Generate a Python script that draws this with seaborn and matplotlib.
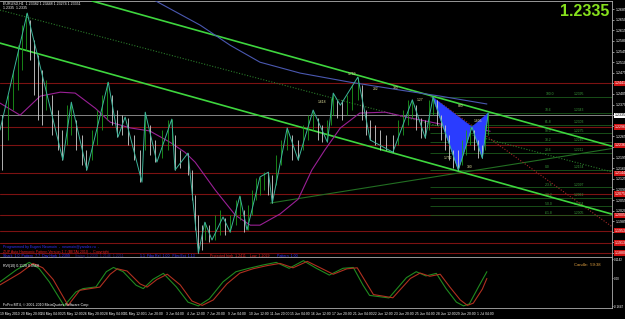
import matplotlib
matplotlib.use("Agg")
import matplotlib.pyplot as plt
import matplotlib.transforms as mtransforms
import pandas as pd
import seaborn as sns

sns.set_theme(style="dark")
plt.rcParams["font.family"] = ["Liberation Sans", "DejaVu Sans"]
plt.rcParams["axes.facecolor"] = "black"
plt.rcParams["figure.facecolor"] = "black"

# ---------------- data (bar index = hours on the H1 chart, price) ----------------
zz_x = [0, 42, 97, 110, 134, 167, 182, 193, 219, 224, 242, 265, 270, 290, 306, 316, 327, 344, 355, 370,
        381, 401, 414, 420, 443, 460, 483, 505, 514, 525, 552, 571, 606, 636, 656, 668, 707, 728, 744, 753]
zz_p = [1.2286, 1.2672, 1.2187, 1.2378, 1.2154, 1.2444, 1.2263, 1.2329, 1.2114, 1.2345, 1.2180, 1.2322,
        1.2154, 1.2210, 1.1880, 1.1982, 1.1923, 1.1999, 1.1949, 1.2068, 1.1956, 1.2131, 1.2147, 1.2045,
        1.2293, 1.2187, 1.2352, 1.2246, 1.2408, 1.2368, 1.2461, 1.2253, 1.2213, 1.2386, 1.2260, 1.2395,
        1.2154, 1.2296, 1.2193, 1.2342]

bar_x = [3, 12, 20, 28, 34, 40, 46, 52, 59, 65, 71, 80, 89, 96, 103, 110, 117, 127, 133, 142, 150, 157,
         165, 173, 181, 188, 198, 207, 216, 224, 231, 239, 250, 259, 265, 270, 278, 290, 296, 301, 306,
         312, 316, 322, 332, 339, 347, 355, 364, 370, 376, 383, 389, 395, 401, 407, 414, 420, 426, 434,
         443, 451, 460, 468, 475, 483, 491, 497, 505, 511, 514, 520, 528, 535, 543, 552, 559, 565, 571,
         579, 586, 596, 606, 614, 622, 630, 636, 642, 650, 656, 662, 668, 674, 680, 687, 693, 699, 707,
         713, 719, 725, 731, 738, 744, 748, 753]
bar_hi = [1.2335, 1.2401, 1.2484, 1.2566, 1.2632, 1.2672, 1.2649, 1.2583, 1.2533, 1.2484, 1.2451, 1.2401,
          1.2352, 1.2286, 1.2368, 1.2378, 1.2319, 1.2270, 1.2220, 1.2286, 1.2352, 1.2401, 1.2444, 1.2401,
          1.2352, 1.2335, 1.2326, 1.2270, 1.2220, 1.2345, 1.2302, 1.2253, 1.2286, 1.2319, 1.2322, 1.2270,
          1.2220, 1.2210, 1.2154, 1.2071, 1.2005, 1.1972, 1.1982, 1.1972, 1.2005, 1.2022, 1.1995, 1.2005,
          1.2055, 1.2068, 1.2022, 1.2038, 1.2088, 1.2127, 1.2131, 1.2147, 1.2147, 1.2137, 1.2203, 1.2253,
          1.2293, 1.2270, 1.2253, 1.2302, 1.2335, 1.2352, 1.2326, 1.2302, 1.2319, 1.2391, 1.2408, 1.2385,
          1.2385, 1.2401, 1.2435, 1.2461, 1.2435, 1.2352, 1.2319, 1.2302, 1.2286, 1.2270, 1.2270, 1.2319,
          1.2352, 1.2385, 1.2385, 1.2368, 1.2326, 1.2319, 1.2385, 1.2395, 1.2385, 1.2335, 1.2302, 1.2270,
          1.2220, 1.2220, 1.2253, 1.2286, 1.2296, 1.2286, 1.2253, 1.2236, 1.2302, 1.2342]
bar_lo = [1.2154, 1.2253, 1.2352, 1.2418, 1.2484, 1.2550, 1.2517, 1.2401, 1.2319, 1.2302, 1.2352, 1.2270,
          1.2220, 1.2187, 1.2236, 1.2270, 1.2220, 1.2170, 1.2154, 1.2187, 1.2236, 1.2286, 1.2319, 1.2302,
          1.2263, 1.2270, 1.2236, 1.2187, 1.2114, 1.2220, 1.2203, 1.2180, 1.2193, 1.2220, 1.2236, 1.2154,
          1.2160, 1.2137, 1.2055, 1.1956, 1.1880, 1.1890, 1.1923, 1.1916, 1.1923, 1.1939, 1.1939, 1.1949,
          1.1972, 1.1989, 1.1949, 1.1956, 1.2005, 1.2055, 1.2071, 1.2088, 1.2071, 1.2045, 1.2104, 1.2170,
          1.2220, 1.2187, 1.2187, 1.2220, 1.2253, 1.2286, 1.2253, 1.2246, 1.2246, 1.2302, 1.2335, 1.2326,
          1.2319, 1.2335, 1.2352, 1.2385, 1.2319, 1.2270, 1.2253, 1.2236, 1.2220, 1.2220, 1.2213, 1.2236,
          1.2270, 1.2302, 1.2326, 1.2286, 1.2260, 1.2260, 1.2286, 1.2335, 1.2302, 1.2253, 1.2220, 1.2187,
          1.2160, 1.2154, 1.2170, 1.2203, 1.2236, 1.2220, 1.2193, 1.2193, 1.2220, 1.2270]

ma_slow_x = [0, 31, 62, 93, 116, 147, 170, 201, 231, 262, 285, 301, 332, 363, 386, 401, 432, 460, 481, 501,
             525, 555, 594, 633, 679, 718, 756]
ma_slow_p = [1.2375, 1.2335, 1.2398, 1.2411, 1.2408, 1.2358, 1.2312, 1.2293, 1.2283, 1.2246, 1.2213, 1.2180,
             1.2088, 1.2005, 1.1972, 1.1972, 1.2009, 1.2058, 1.2154, 1.2220, 1.2293, 1.2342, 1.2345, 1.2326,
             1.2306, 1.2299, 1.2282]
ma_long_x = [224, 309, 355, 401, 463, 540, 617, 679, 751]
ma_long_p = [1.2731, 1.2632, 1.2566, 1.2510, 1.2474, 1.2444, 1.2418, 1.2398, 1.2372]

pat_x = [667, 707, 728, 744, 753]          # X A B C D
pat_p = [1.2395, 1.2154, 1.2296, 1.2193, 1.2342]

red_levels = [1.2441, 1.2296, 1.2236, 1.2144, 1.2075, 1.2005, 1.1953, 1.1913, 1.1880]
current_price = 1.2335

fib_levels = ["100.0", "78.6", "61.8", "50.0", "38.2", "23.6", "0.0", "-23.6", "-38.2", "-50.0", "-61.8"]
fib_prices = [1.2395, 1.2343, 1.2303, 1.2275, 1.2246, 1.2211, 1.2154, 1.2097, 1.2062, 1.2034, 1.2005]

zl_x = [497, 543, 579, 610, 648, 710, 738, 691, 725]
zl_p = [1.2378, 1.2471, 1.2421, 1.2425, 1.2385, 1.2365, 1.2316, 1.2193, 1.2164]
zl_t = ["1.618", "1.759", "282", "380", "1.27", "880", "1.605", "1.752", "380"]

price_ticks = [1.2685, 1.2650, 1.2615, 1.2580, 1.2545, 1.2510, 1.2475, 1.2440, 1.2405, 1.2370, 1.2335,
               1.2300, 1.2265, 1.2230, 1.2195, 1.2160, 1.2125, 1.2090, 1.2055, 1.2020, 1.1985, 1.1950,
               1.1915, 1.1880]

time_labels = ["19 May 2010", "20 May 20:00", "24 May 04:00", "25 May 12:00", "26 May 20:00",
               "28 May 04:00", "31 May 12:00", "1 Jun 20:00", "3 Jun 04:00", "4 Jun 12:00",
               "7 Jun 20:00", "9 Jun 04:00", "10 Jun 12:00", "11 Jun 20:00", "15 Jun 04:00",
               "16 Jun 12:00", "17 Jun 20:00", "21 Jun 04:00", "22 Jun 12:00", "23 Jun 20:00",
               "25 Jun 04:00", "28 Jun 12:00", "29 Jun 20:00", "1 Jul 04:00"]
time_ticks = [32 * i for i in range(len(time_labels))]

rvi_red_x = [0, 31, 51, 66, 82, 105, 123, 134, 154, 170, 181, 196, 216, 227, 242, 258, 278, 296, 312, 329,
             350, 370, 390, 412, 432, 452, 474, 494, 514, 535, 551, 566, 576, 606, 633, 648, 663, 679, 694,
             710, 721, 730, 744, 751]
rvi_red_v = [-0.038, 0.032, 0.089, 0.063, -0.006, -0.159, -0.070, -0.063, -0.051, 0.025, 0.057, 0.044,
             -0.032, -0.051, -0.006, 0.025, -0.038, -0.133, -0.159, -0.127, -0.032, 0.032, 0.057, 0.076,
             0.089, 0.063, 0.101, 0.063, 0.025, 0.057, 0.063, -0.032, -0.095, -0.114, 0.0, 0.032, 0.013,
             0.025, -0.051, -0.127, -0.159, -0.146, -0.063, 0.0]
rvi_grn_x = [0, 25, 45, 60, 76, 99, 117, 128, 148, 164, 175, 190, 210, 221, 236, 252, 272, 290, 306, 323,
             344, 364, 384, 406, 426, 446, 468, 488, 508, 529, 545, 560, 570, 600, 627, 642, 657, 673, 688,
             704, 715, 724, 738, 751]
rvi_grn_v = [-0.02, 0.05, 0.095, 0.06, -0.02, -0.162, -0.08, -0.06, -0.05, 0.04, 0.065, 0.04, -0.04, -0.06,
             -0.005, 0.03, -0.05, -0.14, -0.162, -0.12, -0.02, 0.04, 0.06, 0.08, 0.095, 0.06, 0.105, 0.06,
             0.02, 0.06, 0.065, -0.04, -0.1, -0.115, 0.005, 0.04, 0.015, 0.03, -0.06, -0.14, -0.162, -0.15,
             -0.05, 0.04]

# ---------------- figure ----------------
W, H = 625, 319
fig = plt.figure(figsize=(6.25, 3.19), dpi=100, facecolor="black")
ax = fig.add_axes([0, 59 / H, 612 / W, 259 / H])
axr = fig.add_axes([0, 11 / H, 612 / W, 51 / H])
XMAX = 944
for a in (ax, axr):
    a.set_facecolor("black")
    a.set_xlim(0, XMAX)
    a.grid(False)
    a.spines["left"].set_visible(False)
    for s in ("right", "top", "bottom"):
        a.spines[s].set_color("#b0b0b0")
        a.spines[s].set_linewidth(0.6)
ax.set_ylim(1.1857, 1.2712)
axr.set_ylim(-0.1745, 0.1268)

# horizontal levels
for p in red_levels:
    ax.axhline(p, color="#7c1212", lw=0.8, zorder=1)
ax.axhline(current_price, color="#9a9a9a", lw=0.6, zorder=1)
ax.hlines(fib_prices, 663, XMAX, color="#1c5a1c", lw=0.6, zorder=1)
for lv, p in zip(fib_levels, fib_prices):
    ax.text(841, p + 0.0002, lv, fontsize=2.4, color="#3a9a3a", ha="left", va="bottom", zorder=2)
    ax.text(885, p + 0.0002, f"{p:.4f}", fontsize=2.4, color="#3a9a3a", ha="left", va="bottom", zorder=2)

# trend lines
ax.axline((137, 1.2715), (938, 1.2236), color="#3ed63e", lw=1.2, zorder=3)
ax.axline((0, 1.2573), (938, 1.2012), color="#3ed63e", lw=1.2, zorder=3)
ax.axline((0, 1.2682), (938, 1.2151), color="#2a7a2a", lw=0.8, ls=(0, (1, 1.5)), zorder=2)
ax.plot([417, XMAX], [1.2045, 1.2225], color="#226e22", lw=0.8, zorder=2)
ax.plot([667, XMAX], [1.2395, 1.1967], color="#a02828", lw=0.8, ls=(0, (1, 1.5)), zorder=2)

# moving averages
sns.lineplot(x=ma_long_x, y=ma_long_p, ax=ax, color="#4a58b0", lw=0.8, sort=False, estimator=None, zorder=3)
sns.lineplot(x=ma_slow_x, y=ma_slow_p, ax=ax, color="#9a2096", lw=0.8, sort=False, estimator=None, zorder=3)

# harmonic pattern
ax.fill([pat_x[0], pat_x[1], pat_x[2]], [pat_p[0], pat_p[1], pat_p[2]], color="#2a3cff", lw=0.4, zorder=4)
ax.fill([pat_x[2], pat_x[3], pat_x[4]], [pat_p[2], pat_p[3], pat_p[4]], color="#2a3cff", lw=0.4, zorder=4)

# price bars
cols = []
prev = None
for hi, lo in zip(bar_hi, bar_lo):
    mid = (hi + lo) / 2
    cols.append("#d0d0d0" if prev is None or mid < prev else "#1c9a1c")
    prev = mid
ax.vlines(bar_x, bar_lo, bar_hi, colors=cols, lw=0.6, zorder=5)

# zigzag
zz = pd.DataFrame({"bar": zz_x, "price": zz_p})
sns.lineplot(data=zz, x="bar", y="price", ax=ax, color="#3cb49a", lw=0.7, sort=False, estimator=None, zorder=6)

for x, p, t in zip(zl_x, zl_p, zl_t):
    ax.text(x, p, t, fontsize=2.4, color="#e6e6a0", ha="center", va="center", zorder=7)

# right price axis (labels hidden behind the level tags are skipped, as on the terminal)
shown_ticks = [t for t in price_ticks
               if all(abs(t - r) > 0.0012 for r in red_levels + [current_price]) or t == current_price]
ax.yaxis.tick_right()
ax.set_yticks(price_ticks)
ax.set_yticklabels([f"{p:.4f}" if p in shown_ticks and p != current_price else "" for p in price_ticks])
ax.tick_params(axis="y", labelsize=2.6, colors="white", length=1.5, width=0.4, pad=1)
ax.set_xticks([])
ax.set_xlabel("")
ax.set_ylabel("")
tr = mtransforms.blended_transform_factory(ax.transAxes, ax.transData)
for p in red_levels:
    ax.text(1.004, p, f"{p:.4f}", transform=tr, fontsize=2.6, color="white", ha="left", va="center",
            bbox=dict(fc="#d01414", ec="none", pad=0.4), clip_on=False, zorder=8)
ax.text(1.004, current_price, f"{current_price:.4f}", transform=tr, fontsize=2.6, color="black", ha="left",
        va="center", bbox=dict(fc="white", ec="none", pad=0.4), clip_on=False, zorder=8)

# RVI panel
sns.lineplot(x=rvi_grn_x, y=rvi_grn_v, ax=axr, color="#1f8a1f", lw=0.8, sort=False, estimator=None)
sns.lineplot(x=rvi_red_x, y=rvi_red_v, ax=axr, color="#b03020", lw=0.8, sort=False, estimator=None)
axr.yaxis.tick_right()
axr.set_yticks([0.1142, 0.0, -0.1647])
axr.set_yticklabels(["0.1142", "0.00", "-0.1647"])
axr.tick_params(axis="y", labelsize=2.2, colors="white", length=1.0, width=0.4, pad=0.6)
axr.set_xticks(time_ticks)
axr.set_xticklabels(time_labels, ha="left")
axr.tick_params(axis="x", labelsize=2.4, colors="white", length=2, width=0.4, pad=1)
axr.set_xlabel("")
axr.set_ylabel("")

# texts
def ftext(px, py, s, **kw):
    fig.text(px / W, 1 - py / H, s, **kw)

ftext(3, 4, "EURUSD,H1  1.23382 1.23448 1.23274 1.23351", fontsize=2.6, color="white", va="center")
ftext(3, 8, "1.2335  1.2335", fontsize=2.6, color="white", va="center")
ftext(609, 12, "1.2335", fontsize=11.5, fontweight="bold", color="#86e01c", ha="right", va="center")
ftext(3, 247, "Programmed by Eugeni Neumoin  -  neumoin@yandex.ru  -", fontsize=2.6, color="#3232ff", va="center")
ftext(3, 251.5, "ZUP Auto Harmonic Pattern Version 1.7 (BETA) 2010  -  Copyright", fontsize=2.6, color="#e02020", va="center")
ftext(3, 256, "Shark  1.0  Pattern  7.7  Day High  1.2399", fontsize=2.6, color="#3232ff", va="center")
ftext(75, 256, "Swing  1.2339  1.2146  1.2211", fontsize=2.6, color="#22228a", va="center")
ftext(140, 256, "1.1  Fibo Rel  1.00   Fibo Ext  1.13", fontsize=2.6, color="#3232ff", va="center")
ftext(210, 256, "Projected high  1.2411    Low  1.2029", fontsize=2.6, color="#e02020", va="center")
ftext(277, 256, "Pattern  1.00", fontsize=2.6, color="#3232ff", va="center")
ftext(3, 265.5, "RVI(10) 0.1128 0.0568", fontsize=2.6, color="white", va="center")
ftext(600, 265.5, "Candle:  59:38", fontsize=3, color="#e0a040", ha="right", va="center")
ftext(3, 305, "FxPro MT4, \u00a9 2001-2010 MetaQuotes Software Corp.", fontsize=2.6, color="white", va="center")

fig.savefig("out.png", dpi=100, facecolor="black")
